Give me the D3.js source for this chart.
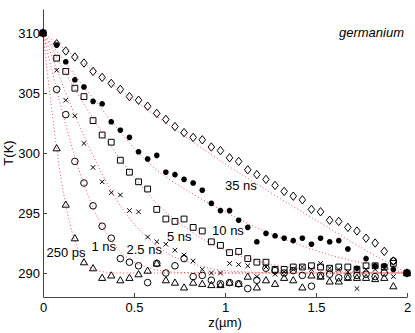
<!DOCTYPE html>
<html>
<head>
<meta charset="utf-8">
<script src="https://cdn.jsdelivr.net/npm/d3@7"></script>
<style>
	body { margin: 0; background: #fff; }
	svg { display: block; font-family: "Liberation Sans", Arial, sans-serif; }
	.axis path, .axis line { stroke: #444; }
	.axis text { font-size: 13px; fill: #000; font-family: "Liberation Sans", Arial, sans-serif; }
	.fit { fill: none; stroke: #ff0000; stroke-width: 1; stroke-dasharray: 1,2.4; opacity: 0.7; }
	.mk { fill: none; stroke: #000; }
	.lbl { font-size: 13px; fill: #000; }
</style>
</head>
<body>
<svg id="graph"></svg>
<script>
// depth positions of the measured points (um)
var zPos = [0, 0.075, 0.125, 0.175, 0.225, 0.275, 0.325, 0.375, 0.425, 0.475, 0.525,
	0.575, 0.625, 0.675, 0.725, 0.775, 0.825, 0.875, 0.925, 0.975, 1.025,
	1.075, 1.125, 1.175, 1.225, 1.275, 1.325, 1.375, 1.425, 1.475, 1.525,
	1.575, 1.625, 1.675, 1.725, 1.775, 1.825, 1.875, 1.925, 2];

// temperatures (K) at each depth, one list per delay
var t250ps = [310, 300.4, 295.7, 292.9, 290.9, 290.4, 289.6, 289.8, 289.4, 289.6, 289.9,
	290.2, 290.8, 289.4, 289.2, 288.8, 289.2, 289.1, 289.0, 289.0, 289.2,
	289.1, 289.7, 288.8, 289.4, 289.1, 289.6, 289.4, 288.8, 289.8, 289.7,
	289.3, 289.3, 289.6, 289.6, 289.6, 289.5, 289.6, 288.9, 290];
var t1ns = [310, 305.3, 303.2, 299.3, 297.5, 295.6, 293.9, 292.9, 291.2, 290.9, 290.6,
	289.2, 290.8, 290.0, 290.6, 291.2, 289.7, 289.8, 289.4, 289.1, 289.2,
	289.1, 288.7, 289.4, 290.4, 290.2, 290.0, 290.2, 289.8, 288.9, 289.8,
	289.9, 289.6, 289.7, 289.8, 289.9, 289.7, 290.0, 291.0, 290];
var t2p5ns = [310, 306.9, 304.4, 303.1, 300.8, 298.8, 297.6, 296.7, 296.5, 295.2, 295.1,
	293.0, 292.6, 292.4, 291.9, 291.5, 291.0, 290.3, 290.0, 290.0, 290.8,
	290.7, 290.6, 289.7, 290.5, 289.9, 290.1, 290.3, 290.5, 290.3, 290.8,
	290.4, 290.3, 290.1, 288.7, 290.3, 290.3, 290.4, 289.7, 290];
var t5ns = [310, 307.9, 306.8, 305.4, 304.7, 302.7, 301.5, 300.9, 299.4, 298.4, 297.6,
	297.0, 295.3, 294.5, 294.3, 294.5, 293.8, 293.5, 292.6, 292.3, 291.7,
	291.8, 291.2, 290.9, 290.9, 290.3, 290.3, 290.5, 290.5, 290.6, 290.5,
	290.4, 290.5, 290.5, 290.3, 290.6, 290.6, 290.5, 290.8, 290];
var t10ns = [310, 309.0, 307.6, 306.1, 305.5, 304.3, 304.1, 302.6, 301.9, 301.3, 300.1,
	299.5, 299.8, 298.4, 298.2, 297.8, 297.5, 296.9, 295.8, 295.2, 295.2,
	294.4, 293.8, 292.6, 293.3, 293.1, 292.9, 292.7, 292.9, 292.4, 292.9,
	292.6, 292.7, 292.0, 290.4, 291.2, 290.6, 290.6, 290.3, 290];
var t35ns = [310, 309.1, 308.5, 308.0, 307.5, 306.8, 306.3, 305.8, 305.3, 304.7, 304.4,
	303.9, 303.3, 302.8, 302.2, 301.7, 301.3, 301.1, 300.5, 300.2, 299.6,
	299.3, 298.6, 298.2, 297.8, 297.3, 296.8, 296.4, 296.1, 295.3, 295.1,
	294.4, 294.3, 293.8, 293.5, 292.9, 292.5, 291.8, 291.0, 290];

// model curves (dotted red)
var fitZ250ps = [0, 0.025, 0.05, 0.075, 0.1, 0.125, 0.15, 0.175, 0.2, 0.25, 0.3, 0.35, 0.4, 0.5, 1, 2];
var fitT250ps = [310, 306.6, 303.4, 300.4, 297.8, 295.7, 294.0, 292.7, 291.7, 290.6, 290.2, 290.06, 290.01, 290, 290, 290];
var fitZ1ns = [0, 0.05, 0.1, 0.15, 0.2, 0.25, 0.3, 0.35, 0.4, 0.5, 0.6, 0.7, 0.8, 1, 2];
var fitT1ns = [310, 306.8, 303.8, 301.0, 298.5, 296.4, 294.6, 293.3, 292.2, 290.9, 290.35, 290.1, 290.03, 290, 290];
var fitZ2p5ns = [0, 0.05, 0.1, 0.2, 0.3, 0.4, 0.5, 0.6, 0.7, 0.8, 0.9, 1.0, 1.2, 1.4, 2];
var fitT2p5ns = [310, 308.0, 306.0, 302.3, 299.0, 296.2, 294.1, 292.6, 291.5, 290.9, 290.45, 290.2, 290.05, 290, 290];
var fitZ5ns = [0, 0.05, 0.1, 0.2, 0.3, 0.4, 0.5, 0.6, 0.8, 1.0, 1.2, 1.4, 1.6, 1.8, 2];
var fitT5ns = [310, 308.7, 307.3, 304.7, 302.3, 300.0, 298.0, 296.2, 293.6, 291.9, 290.9, 290.4, 290.14, 290.05, 290];
var fitZ10ns = [0, 0.1, 0.2, 0.3, 0.4, 0.5, 0.6, 0.8, 1.0, 1.2, 1.4, 1.6, 1.8, 2];
var fitT10ns = [310, 308.0, 306.0, 304.1, 302.2, 300.4, 298.9, 296.8, 295.1, 293.6, 292.4, 291.4, 290.7, 290];
var fitZ35ns = [0, 0.25, 0.5, 0.75, 1, 1.25, 1.5, 1.75, 2];
var fitT35ns = [310, 307.2, 304.4, 301.7, 299.1, 296.7, 294.4, 292.1, 290];

var delayNames = ["250 ps", "1 ns", "2.5 ns", "5 ns", "10 ns", "35 ns"];
var xTicks = [0, 0.5, 1, 1.5, 2];
var yTicks = [290, 295, 300, 305, 310];

var width = 415, height = 333,
	graph = d3.select("#graph").attr("width", width).attr("height", height);

var x = d3.scaleLinear().domain([0, 2]).range([43, 407]),
	y = d3.scaleLinear().domain([288, 312]).range([297, 9]);

//axes
graph.append("g")
	.attr("class", "axis")
	.attr("transform", "translate(0,297)")
	.call(d3.axisBottom(x).tickValues(xTicks).tickFormat(d3.format("")).tickSizeInner(-4).tickSizeOuter(0).tickPadding(5.5));
graph.append("g")
	.attr("class", "axis")
	.attr("transform", "translate(43,0)")
	.call(d3.axisLeft(y).tickValues(yTicks).tickSizeInner(-4).tickSizeOuter(0).tickPadding(3));

graph.append("text").attr("class", "lbl")
	.attr("transform", "translate(13,153) rotate(-90)")
	.attr("text-anchor", "middle")
	.text("T(K)");
graph.append("text").attr("class", "lbl")
	.attr("x", 225).attr("y", 327)
	.attr("text-anchor", "middle")
	.text("z(\u00b5m)");
graph.append("text").attr("class", "lbl")
	.attr("x", 404).attr("y", 37)
	.attr("text-anchor", "end")
	.style("font-style", "italic")
	.text("germanium");

//fit curves
var line = d3.line()
	.x(function(d) { return x(d[0]); })
	.y(function(d) { return y(d[1]); })
	.curve(d3.curveMonotoneX);
var fits = [[fitZ250ps, fitT250ps], [fitZ1ns, fitT1ns], [fitZ2p5ns, fitT2p5ns],
	[fitZ5ns, fitT5ns], [fitZ10ns, fitT10ns], [fitZ35ns, fitT35ns]];
graph.append("g").selectAll("path")
	.data(fits)
	.enter().append("path")
		.attr("class", "fit")
		.attr("d", function(f) { return line(d3.zip(f[0], f[1])); });

//markers
var shapes = {
	triangle: "M0,-3.6L3.6,2.6L-3.6,2.6Z",
	circle: "M3.3,0A3.3,3.3,0,1,1,-3.3,0A3.3,3.3,0,1,1,3.3,0Z",
	cross: "M-2.3,-2.3L2.3,2.3M-2.3,2.3L2.3,-2.3",
	square: "M-2.9,-2.9H2.9V2.9H-2.9Z",
	star: "M-2.8,0H2.8M0,-2.8V2.8M-2,-2L2,2M-2,2L2,-2",
	diamond: "M0,-4.2L3.3,0L0,4.2L-3.3,0Z"
};
var series = [
	{ temps: t250ps, shape: "triangle" },
	{ temps: t1ns, shape: "circle" },
	{ temps: t2p5ns, shape: "cross" },
	{ temps: t5ns, shape: "square" },
	{ temps: t10ns, shape: "star" },
	{ temps: t35ns, shape: "diamond" }
];
series.forEach(function(s) {
	var g = graph.append("g");
	g.selectAll("path")
		.data(d3.zip(zPos, s.temps))
		.enter().append("path")
			.attr("class", "mk")
			.attr("stroke-width", s.shape == "star" ? 1.8 : 1)
			.attr("transform", function(d) { return "translate(" + x(d[0]) + "," + y(d[1]) + ")"; })
			.attr("d", shapes[s.shape]);
	if (s.shape == "star") {
		g.selectAll("circle")
			.data(d3.zip(zPos, s.temps))
			.enter().append("circle")
				.attr("cx", function(d) { return x(d[0]); })
				.attr("cy", function(d) { return y(d[1]); })
				.attr("r", 1.6)
				.attr("fill", "#000");
	}
});

//delay labels
var labelAt = [[0.019, 291.3], [0.266, 291.8], [0.459, 291.6], [0.681, 292.7], [0.929, 293.2], [1.0, 296.9]];
graph.append("g").selectAll("text")
	.data(delayNames)
	.enter().append("text")
		.attr("class", "lbl")
		.attr("x", function(d, i) { return x(labelAt[i][0]); })
		.attr("y", function(d, i) { return y(labelAt[i][1]); })
		.text(function(d) { return d; });
</script>
</body>
</html>
